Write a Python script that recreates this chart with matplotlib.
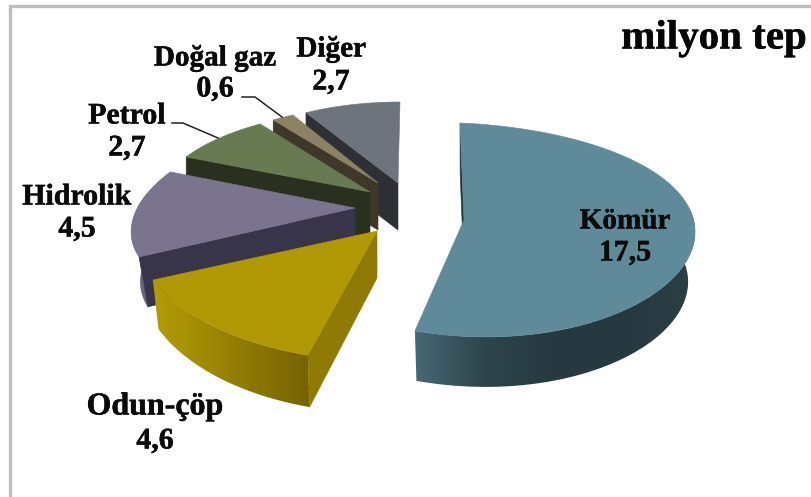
import matplotlib
matplotlib.use("Agg")
import matplotlib.patheffects as pe
import matplotlib.pyplot as plt
import numpy as np
from matplotlib.colors import to_rgb
from matplotlib.patches import Polygon

categories = ["Kömür", "Odun-çöp", "Hidrolik", "Petrol", "Doğal gaz", "Diğer"]
values = [17.5, 4.6, 4.5, 2.7, 0.6, 2.7]
unit_title = "milyon tep"

top_colors = ["#5f8a99", "#b19805", "#7a748f", "#687a52", "#8c8163", "#6e747b"]
cut_colors = ["#24363c", "#8f7a05", "#38344a", "#2a3020", "#3f3828", "#2e3036"]
rim_colors = [
    ["#466874", "#2e434a", "#263940", "#263940", "#2c3f45"],
    ["#b39c06", "#a08a05", "#8a7504", "#776303"],
    ["#6a6480", "#6a6480"],
    ["#2a3020", "#2a3020"],
    ["#3f3828", "#3f3828"],
    ["#2e3036", "#2e3036"],
]

# apex x, apex y, rx, ry back, ry front, skew x, skew y
sector_geom = [
    (464, 220, 231, 97, 116.5, -4, 10),
    (377, 231, 242.5, 129.5, 129.5, 13.9, 8.5),
    (355, 208, 220, 101.3, 101.3, 41.4, -5.1),
    (370, 192, 208.5, 83.4, 83.4, 17.5, 1.6),
    (378, 183, 195, 78.4, 78.4, 13.7, 0),
    (398, 183, 188.6, 81, 81, 2, 0),
]
# depth, x scale and y scale of the lower rim
rim_geom = [
    (50, 0.97, 1.0),
    (47, 0.975, 1.04),
    (50, 0.96, 1.0),
    (46, 1.0, 1.0),
    (47, 1.0, 1.0),
    (47, 1.0, 1.0),
]
# x, name y, value y, font size of the name
label_pos = [
    (625, 221, 253, 21),
    (155, 407, 441, 23),
    (77, 197, 229, 21.5),
    (127, 116, 148, 21.5),
    (215, 58, 89, 21),
    (331, 49, 82, 21),
]
leaders = {
    "Petrol": [(172, 123), (183, 123), (218, 138)],
    "Doğal gaz": [(242, 97), (255, 97), (282, 117)],
}

FONT = "Liberation Serif"
heavy = [pe.withStroke(linewidth=0.35, foreground="#0a0a0a")]


def rim_xy(t, geom):
    ax_, ay, rx, ry_back, ry_front, sx, sy = geom
    # y radius eases from the far side to the near side
    ry = 0.5 * (ry_back + ry_front) - 0.5 * (ry_front - ry_back) * np.cos(t)
    return rx * np.sin(t) + sx * np.cos(t), -ry * np.cos(t) + sy * np.sin(t)


def gradient(stops):
    stops = np.array([to_rgb(c) for c in stops])
    pos = np.linspace(0, 1, len(stops))
    f = np.linspace(0, 1, 256)
    return np.dstack([np.interp(f, pos, stops[:, i]) for i in range(3)])


def draw_sector(ax, t0, t1, geom, rim, top_col, cut_col, stops):
    ax_, ay = geom[0], geom[1]
    depth, xs, ys = rim
    t = np.radians(np.linspace(t0, t1, 160))
    dx, dy = rim_xy(t, geom)
    top_x, top_y = ax_ + dx, ay + dy
    low_x, low_y = ax_ + xs * dx, ay + depth + ys * dy

    # outer rim, only the part turned towards the viewer
    front = np.cos(t) < 0.2
    if front.any():
        poly_x = np.r_[top_x[front], low_x[front][::-1]]
        poly_y = np.r_[top_y[front], low_y[front][::-1]]
        clip = Polygon(np.column_stack([poly_x, poly_y]), facecolor="none", edgecolor="none")
        ax.add_patch(clip)
        im = ax.imshow(gradient(stops), aspect="auto", zorder=1, interpolation="bilinear",
                       extent=(poly_x.min(), poly_x.max(), poly_y.max(), poly_y.min()))
        im.set_clip_path(clip)

    # flat cut at the start angle
    ax.add_patch(Polygon(
        [(ax_, ay), (top_x[0], top_y[0]), (low_x[0], low_y[0]), (ax_, ay + depth)],
        facecolor=cut_col, edgecolor=cut_col, linewidth=0.4, zorder=1))

    pts = np.column_stack([np.r_[ax_, top_x], np.r_[ay, top_y]])
    ax.add_patch(Polygon(pts, facecolor=top_col, edgecolor=top_col, linewidth=0.4, zorder=1))


fig = plt.figure(figsize=(8.12, 4.97), dpi=100)
ax = fig.add_axes([0, 0, 1, 1])

# frame
ax.plot([10, 10, 812], [497, 6, 6], color="#bdbdbd", lw=2.4, solid_joinstyle="miter", zorder=0)

angles = np.r_[0, np.cumsum(values)] / np.sum(values) * 360

# back slices first, the large ones in front overlap them
for i in reversed(range(len(values))):
    draw_sector(ax, angles[i], angles[i + 1], sector_geom[i], rim_geom[i],
                top_colors[i], cut_colors[i], rim_colors[i])

for name, pts in leaders.items():
    xs_, ys_ = zip(*pts)
    ax.plot(xs_, ys_, color="#222222", lw=1.1, zorder=2)

for name, val, (x, y0, y1, size) in zip(categories, values, label_pos):
    val_txt = f"{val:.1f}".replace(".", ",")
    ax.text(x, y0, name, ha="center", va="center", family=FONT, weight="bold",
            fontsize=size, color="#0a0a0a", zorder=3, path_effects=heavy)
    ax.text(x, y1, val_txt, ha="center", va="center", family=FONT, weight="bold",
            fontsize=21.5, color="#0a0a0a", zorder=3, path_effects=heavy)

ax.text(714, 39, unit_title, ha="center", va="center", family=FONT, weight="bold",
        fontsize=29.5, color="#050505", zorder=3, path_effects=heavy)

ax.set_xlim(0, 812)
ax.set_ylim(497, 0)
ax.axis("off")

fig.savefig("out.png", dpi=100)
